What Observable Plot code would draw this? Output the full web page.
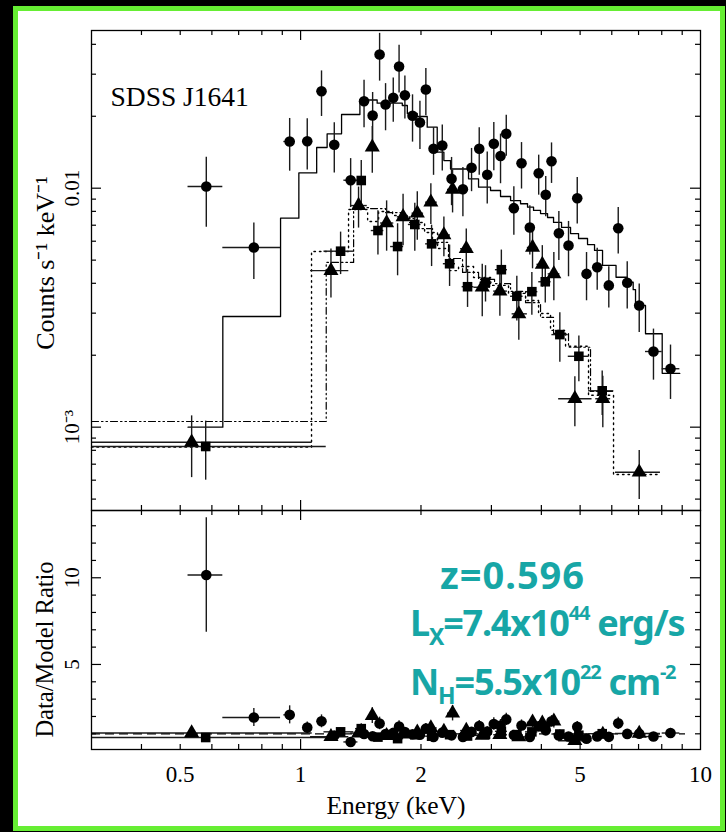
<!DOCTYPE html>
<html><head><meta charset="utf-8">
<script src="https://cdn.jsdelivr.net/npm/d3@7"></script>
<script src="https://cdn.jsdelivr.net/npm/@observablehq/plot@0.6"></script>
<style>
html,body{margin:0;padding:0;background:#000;}
#wrap{position:relative;width:726px;height:832px;background:#000;overflow:hidden;}
#box{position:absolute;left:13px;top:6px;width:702px;height:815px;background:#fff;border:5px solid #66ee33;}
#top,#bot{position:absolute;left:0;}
#top{top:0;}
#bot{top:510px;}
.ann{position:absolute;color:#17a6a6;font-family:"Noto Sans";font-weight:700;white-space:nowrap;}
.l1{font-size:38px;line-height:38px;letter-spacing:1px;}
.l2{font-size:36px;line-height:36px;letter-spacing:-1.2px;}
.sub{font-size:23px;position:relative;top:9px;}
.sup{font-size:20px;position:relative;top:-16px;}
</style></head><body>
<div id="wrap">
<div id="box"></div>
<div id="top"></div>
<div id="bot"></div>
<div class="ann l1" style="left:440px;top:555px;">z=0.596</div>
<div class="ann l2" style="left:410px;top:605px;">L<span class="sub">X</span>=7.4x10<span class="sup">44</span> erg/s</div>
<div class="ann l2" style="left:410px;top:664px;">N<span class="sub">H</span>=5.5x10<span class="sup">22</span> cm<span class="sup">-2</span></div>
</div>
<script>
// ---- circles (series 1) ----
const circE  = [0.581,0.764,0.939,1.039,1.128,1.214,1.334,1.441,1.514,1.576,1.631,1.705,1.763,1.823,1.905,1.988,2.057,2.150,2.261,2.385,2.546,2.676,2.797,2.929,3.042,3.162,3.268,3.414,3.568,3.743,3.939,4.102,4.241,4.424,4.677,4.918,5.188,5.517,5.898,6.227,6.558,7.027,7.628,8.414];
const circLo = [0.523,0.639,0.908,1.012,1.100,1.184,1.283,1.416,1.488,1.549,1.603,1.676,1.733,1.792,1.872,1.954,2.022,2.113,2.222,2.344,2.502,2.630,2.749,2.879,2.990,3.108,3.212,3.355,3.507,3.679,3.871,4.032,4.168,4.348,4.597,4.834,5.099,5.422,5.797,6.120,6.446,6.879,7.286,8.021];
const circHi = [0.639,0.891,0.971,1.070,1.155,1.247,1.391,1.466,1.540,1.603,1.659,1.734,1.793,1.854,1.938,2.022,2.092,2.187,2.300,2.426,2.590,2.722,2.845,2.979,3.094,3.216,3.324,3.473,3.629,3.807,4.007,4.172,4.314,4.500,4.757,5.002,5.277,5.612,5.999,6.334,6.670,7.175,8.021,8.879];
const circC  = [0.01016,0.00565,0.01568,0.01573,0.02546,0.01519,0.01080,0.02312,0.02015,0.03626,0.02239,0.02389,0.03231,0.02450,0.02009,0.01883,0.02588,0.01462,0.01509,0.01095,0.00990,0.01217,0.01462,0.01138,0.01534,0.01364,0.01689,0.00825,0.01272,0.00685,0.01155,0.00939,0.01297,0.00648,0.00576,0.00908,0.00438,0.00467,0.00392,0.00680,0.00402,0.00323,0.002073,0.001756];
const circErr= [0.0033,0.0015,0.0039,0.0038,0.0055,0.0036,0.0025,0.0052,0.0050,0.0082,0.0050,0.0050,0.0073,0.0050,0.0045,0.0043,0.0058,0.0033,0.0033,0.0025,0.0023,0.0025,0.0033,0.0028,0.0035,0.0032,0.0033,0.0019,0.0028,0.0016,0.0022,0.0018,0.0025,0.0015,0.0015,0.0020,0.0010,0.00093,0.00077,0.0015,0.0009,0.00074,0.0005,0.00045];
// ---- triangles (series 2) ----
const triE  = [0.534,1.191,1.396,1.511,1.641,1.804,1.958,2.117,2.282,2.399,2.596,2.846,3.150,3.513,3.802,4.022,4.298,4.851,5.698,7.027];
const triLo = [0.300,1.059,1.334,1.480,1.585,1.745,1.900,2.054,2.210,2.330,2.512,2.713,3.040,3.380,3.690,3.900,4.160,4.419,5.470,6.130];
const triHi = [1.069,1.320,1.468,1.540,1.710,1.866,2.030,2.196,2.370,2.470,2.680,2.985,3.290,3.690,3.920,4.140,4.450,5.355,5.960,7.940];
const triC  = [8.65e-4,4.52e-3,8.46e-3,0.01484,7.15e-3,7.59e-3,7.86e-3,8.74e-3,6.37e-3,9.88e-3,5.58e-3,3.85e-3,3.71e-3,2.98e-3,5.65e-3,4.80e-3,4.38e-3,1.315e-3,1.315e-3,6.48e-4];
const triErr= [2.5e-4,1.05e-3,1.65e-3,3.3e-3,1.7e-3,1.85e-3,1.8e-3,1.7e-3,1.2e-3,2.0e-3,1.17e-3,0.95e-3,0.8e-3,0.67e-3,1.05e-3,0.95e-3,1.0e-3,3.1e-4,3.2e-4,1.5e-4];
// ---- squares (series 3) ----
const sqE  = [0.579,1.259,1.418,1.561,1.748,1.930,2.126,2.358,2.615,2.900,3.177,3.473,3.787,4.091,4.449,4.964,5.678];
const sqLo = [0.300,1.144,1.372,1.502,1.679,1.860,2.054,2.275,2.535,2.810,3.070,3.350,3.650,3.940,4.250,4.670,5.250];
const sqHi = [1.159,1.359,1.453,1.615,1.810,2.000,2.217,2.440,2.713,3.010,3.290,3.600,3.920,4.230,4.670,5.250,6.070];
const sqC  = [8.30e-4,5.45e-3,0.01077,6.65e-3,5.70e-3,7.05e-3,5.85e-3,4.83e-3,3.87e-3,4.04e-3,4.56e-3,3.53e-3,3.69e-3,4.06e-3,2.44e-3,1.98e-3,1.42e-3];
const sqErr= [2.3e-4,1.1e-3,2.3e-3,1.4e-3,1.4e-3,1.6e-3,1.15e-3,0.95e-3,0.7e-3,0.7e-3,0.95e-3,0.75e-3,0.75e-3,0.75e-3,0.57e-3,0.43e-3,0.3e-3];
// ---- folded models (step functions: bin edges and values) ----
const circModelEdges = [0.523,0.639,0.891,0.990,1.097,1.165,1.266,1.407,1.554,1.796,1.849,1.957,2.073,2.196,2.282,2.371,2.630,2.786,2.985,3.162,3.350,3.548,3.694,3.824,3.981,4.145,4.291,4.493,4.732,4.955,5.218,5.433,5.689,6.149,6.557,6.787,6.879,7.286,8.021,8.879];
const circModelC = [1.00e-3,2.905e-3,7.49e-3,0.01158,0.01480,0.01689,0.02034,0.02339,0.02268,0.02219,0.02054,0.01995,0.01800,0.01415,0.01305,0.01203,0.01095,0.01010,0.00978,0.00923,0.00888,0.00861,0.00833,0.00807,0.00783,0.00754,0.00719,0.00685,0.00646,0.00616,0.00581,0.00549,0.00475,0.00424,0.00404,0.00376,0.00323,0.00246,0.00168];
const triModelEdges = [0.3,1.065,1.318,1.471,1.567,1.698,1.873,2.042,2.200,2.344,2.483,2.707,2.985,3.311,3.652,3.936,4.217,4.598,5.248,6.061,7.943];
const triModelC = [8.25e-4,5.43e-3,8.14e-3,7.26e-3,7.99e-3,7.69e-3,7.19e-3,6.53e-3,5.59e-3,4.52e-3,4.70e-3,4.23e-3,3.92e-3,3.63e-3,3.39e-3,2.99e-3,2.54e-3,2.18e-3,1.36e-3,6.34e-4];
const sqModelEdges = [0.3,1.159,1.357,1.496,1.631,1.778,1.950,2.138,2.344,2.541,2.786,3.055,3.350,3.652,3.981,4.291,4.677,5.309,6.026];
const sqModelC = [1.056e-3,4.89e-3,8.30e-3,8.22e-3,7.91e-3,7.46e-3,6.78e-3,5.93e-3,5.08e-3,4.44e-3,4.15e-3,3.99e-3,3.70e-3,3.32e-3,2.88e-3,2.47e-3,2.16e-3,1.41e-3];
// ---- ticks and labels ----
const xMinorTicks = [0.4,0.5,0.6,0.7,0.8,0.9,2,3,4,5,6,7,8,9];
const xMajorTicks = [1];
const xTickLabels = [0.5,1,2,5,10];
const yTopMajor = [0.001,0.01];
const yTopMinor = [5e-4,6e-4,7e-4,8e-4,9e-4,2e-3,3e-3,4e-3,5e-3,6e-3,7e-3,8e-3,9e-3,0.02,0.03,0.04];
const yTopLabelVals = [0.01,0.001];
const yTopLabelText = ["0.01","10\u207B\u00B3"];
const yBotMajor = [5,10];
const yBotMinor = [1,2,3,4,6,7,8,9,11,12,13];
const yBotLabelVals = [5,10];

function modelAt(edges, vals, e){
  for (let i=0;i<vals.length;i++) if (e>=edges[i] && e<edges[i+1]) return vals[i];
  return vals[vals.length-1];
}
function series(E,lo,hi,C,err,edges,vals){
  return E.map((e,i)=>{const m=modelAt(edges,vals,e);
    return {e, lo:lo[i], hi:hi[i], c:C[i], err:err[i], r:C[i]/m, rerr:err[i]/m};});
}
function steps(edges, vals){
  const p=[]; vals.forEach((v,i)=>{p.push({e:edges[i],c:v},{e:edges[i+1],c:v});}); return p;
}
const circ = series(circE,circLo,circHi,circC,circErr,circModelEdges,circModelC);
const tri  = series(triE,triLo,triHi,triC,triErr,triModelEdges,triModelC);
const sq   = series(sqE,sqLo,sqHi,sqC,sqErr,sqModelEdges,sqModelC);

const EB = {stroke:"#1a1a1a", strokeWidth:1.4};
const TK = {stroke:"black", strokeWidth:1.2};
const W = 726, ML = 91, MR = 26, FW = W-ML-MR;
const symbols = [[circ,"circle",5.3],[tri,"triangle",5.6],[sq,"square",5.4]];

function dataMarks(yKey, errLo, errHi){
  const m=[];
  for (const [d] of symbols){
    m.push(Plot.ruleX(d,{x:"e", y1:errLo, y2:errHi, ...EB}));
    m.push(Plot.ruleY(d,{y:yKey, x1:"lo", x2:"hi", ...EB}));
  }
  for (const [d,s,r] of symbols) m.push(Plot.dot(d,{x:"e", y:yKey, symbol:s, r, fill:"black", stroke:"none"}));
  return m;
}

const FH1 = 480;
const topPlot = Plot.plot({
  width:W, height:510, marginTop:30, marginBottom:0, marginLeft:ML, marginRight:MR,
  style:{background:"transparent", fontFamily:"Liberation Serif", fontSize:"22px", color:"black", overflow:"visible"},
  x:{type:"log", domain:[0.3,10], axis:null},
  y:{type:"log", domain:[4.48e-4,0.0457], axis:null},
  marks:[
    Plot.line(steps(sqModelEdges,sqModelC),{x:"e", y:"c", stroke:"black", strokeWidth:1.2, strokeDasharray:"7,3,1.5,3,1.5,3"}),
    Plot.line(steps(triModelEdges,triModelC),{x:"e", y:"c", stroke:"black", strokeWidth:1.4, strokeDasharray:"1.5,4"}),
    Plot.line(steps(circModelEdges,circModelC),{x:"e", y:"c", stroke:"black", strokeWidth:1.3}),
    ...dataMarks("c", d=>d.c-d.err, d=>d.c+d.err),
    Plot.tickY(yTopMinor,{y:d=>d, insetRight:FW-5, ...TK}),
    Plot.tickY(yTopMajor,{y:d=>d, insetRight:FW-10, ...TK}),
    Plot.tickY(yTopMinor,{y:d=>d, insetLeft:FW-5, ...TK}),
    Plot.tickY(yTopMajor,{y:d=>d, insetLeft:FW-10, ...TK}),
    Plot.tickX(xMinorTicks,{x:d=>d, insetBottom:FH1-5, ...TK}),
    Plot.tickX(xMajorTicks,{x:d=>d, insetBottom:FH1-10, ...TK}),
    Plot.tickX(xMinorTicks,{x:d=>d, insetTop:FH1-5, ...TK}),
    Plot.tickX(xMajorTicks,{x:d=>d, insetTop:FH1-10, ...TK}),
    Plot.frame({stroke:"black", strokeWidth:1.3}),
    Plot.axisY({ticks:yTopLabelVals, tickFormat:d=>yTopLabelText[yTopLabelVals.indexOf(d)], tickSize:0, tickPadding:13, tickRotate:-90, label:null, fontSize:21}),
    Plot.text(["SDSS J1641"],{text:d=>d, frameAnchor:"top-left", dx:19, dy:67, textAnchor:"start", lineAnchor:"middle", fontSize:27.5}),
    Plot.text(["Counts s\u207B\u00B9 keV\u207B\u00B9"],{text:d=>d, frameAnchor:"left", rotate:-90, dx:-46, dy:-7.5, textAnchor:"middle", lineAnchor:"middle", fontSize:26})
  ]
});
document.getElementById("top").appendChild(topPlot);

const FH2 = 239;
const botPlot = Plot.plot({
  width:W, height:322, marginTop:0, marginBottom:83, marginLeft:ML, marginRight:MR,
  style:{background:"transparent", fontFamily:"Liberation Serif", fontSize:"22px", color:"black", overflow:"visible"},
  x:{type:"log", domain:[0.3,10], axis:null},
  y:{domain:[0.095,13.88], axis:null},
  marks:[
    Plot.ruleY([1],{insetRight:15, stroke:"black", strokeWidth:1.2, strokeDasharray:"9,5"}),
    ...dataMarks("r", d=>d.r-d.rerr, d=>d.r+d.rerr),
    Plot.tickY(yBotMinor,{y:d=>d, insetRight:FW-5, ...TK}),
    Plot.tickY(yBotMajor,{y:d=>d, insetRight:FW-10, ...TK}),
    Plot.tickY(yBotMinor,{y:d=>d, insetLeft:FW-5, ...TK}),
    Plot.tickY(yBotMajor,{y:d=>d, insetLeft:FW-10, ...TK}),
    Plot.tickX(xMinorTicks,{x:d=>d, insetBottom:FH2-5, ...TK}),
    Plot.tickX(xMajorTicks,{x:d=>d, insetBottom:FH2-10, ...TK}),
    Plot.tickX(xMinorTicks,{x:d=>d, insetTop:FH2-5, ...TK}),
    Plot.tickX(xMajorTicks,{x:d=>d, insetTop:FH2-10, ...TK}),
    Plot.frame({stroke:"black", strokeWidth:1.3}),
    Plot.axisY({ticks:yBotLabelVals, tickFormat:d=>String(d), tickSize:0, tickPadding:13, tickRotate:-90, label:null, fontSize:21}),
    Plot.axisX({ticks:xTickLabels, tickFormat:d=>String(d), tickSize:0, tickPadding:16, label:null, fontSize:23}),
    Plot.text(["Energy (keV)"],{text:d=>d, frameAnchor:"bottom", dy:56, lineAnchor:"middle", fontSize:25.5}),
    Plot.text(["Data/Model Ratio"],{text:d=>d, frameAnchor:"left", rotate:-90, dx:-46, dy:19.5, textAnchor:"middle", lineAnchor:"middle", fontSize:24.5})
  ]
});
document.getElementById("bot").appendChild(botPlot);
</script>
</body></html>
